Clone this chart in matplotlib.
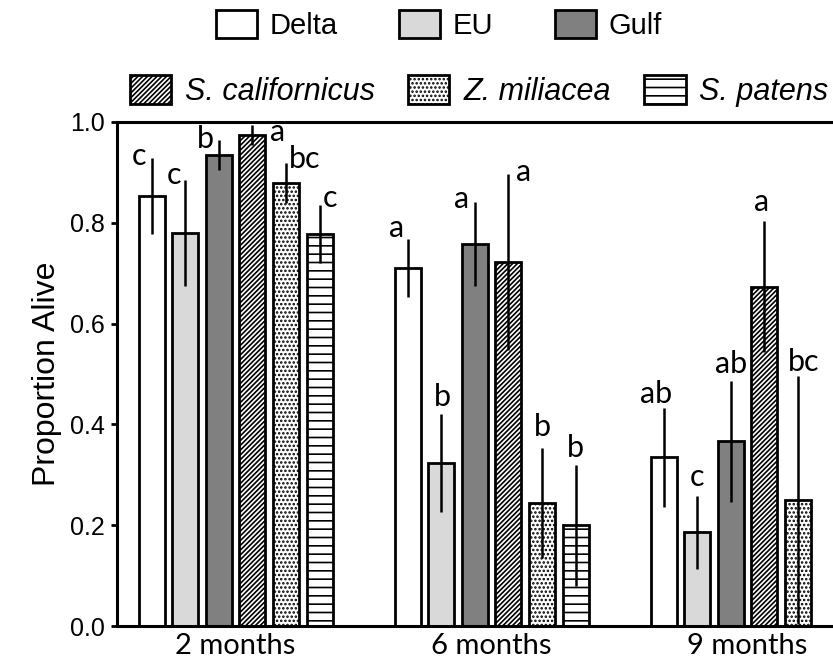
import numpy as np
import matplotlib
matplotlib.use("Agg")
import matplotlib.pyplot as plt
from matplotlib.patches import Patch

# ---- data ----
periods = ["2 months", "6 months", "9 months"]
groups = ["Delta", "EU", "Gulf", "S. californicus", "Z. miliacea", "S. patens"]

delta = [0.853, 0.710, 0.335]
eu = [0.780, 0.323, 0.186]
gulf = [0.935, 0.758, 0.367]
s_cal = [0.974, 0.722, 0.673]
z_mil = [0.879, 0.244, 0.250]
s_pat = [0.778, 0.200, np.nan]

delta_err = [0.075, 0.058, 0.098]
eu_err = [0.105, 0.097, 0.072]
gulf_err = [0.030, 0.083, 0.120]
s_cal_err = [0.020, 0.175, 0.130]
z_mil_err = [0.040, 0.110, 0.246]
s_pat_err = [0.058, 0.120, np.nan]

letters_2mo = ["c", "c", "b", "a", "bc", "c"]
letters_6mo = ["a", "b", "a", "a", "b", "b"]
letters_9mo = ["ab", "c", "ab", "a", "bc", ""]

# ---- styles / layout ----
faces = ["white", "#d9d9d9", "#808080", "white", "white", "white"]
hatches = [None, None, None, "///////", "....", "--"]
# letter nudges in pixels (dx right, dy up) relative to top of error bar
nudge_2mo = [(-13, -7), (-11, -4), (-13, -8), (25, -16), (19, -5), (10, -2)]
nudge_6mo = [(-11, 2), (1, 8), (-13, -6), (15, -7), (0, 12), (0, 8)]
nudge_9mo = [(-7, 5), (0, 10), (0, 8), (-3, 10), (6, 5), (0, 0)]

values = [delta, eu, gulf, s_cal, z_mil, s_pat]
errors = [delta_err, eu_err, gulf_err, s_cal_err, z_mil_err, s_pat_err]
letters = [letters_2mo, letters_6mo, letters_9mo]
nudges = [nudge_2mo, nudge_6mo, nudge_9mo]

plt.rcParams["hatch.linewidth"] = 1.2
plt.rcParams["font.family"] = ["Liberation Sans", "DejaVu Sans"]

fig = plt.figure(figsize=(8.33, 6.65), dpi=100)
ax = fig.add_axes([0.1405, 0.0586, 0.8595, 0.758])

unit = 256.0  # pixels per group
width = 26 / unit
step = 33.6 / unit
x = np.arange(len(periods))

for i, (vals, errs) in enumerate(zip(values, errors)):
    pos = x + (i - 2.5) * step
    for j in range(len(periods)):
        if np.isnan(vals[j]):
            continue
        ax.bar(pos[j], vals[j], width, color=faces[i], edgecolor="black",
               linewidth=2, hatch=hatches[i], zorder=2)
        ax.plot([pos[j], pos[j]], [vals[j] - errs[j], vals[j] + errs[j]],
                color="black", lw=1.8, zorder=3, solid_capstyle="butt")
        lab = letters[j][i]
        if lab:
            dx, dy = nudges[j][i]
            ax.text(pos[j] + dx / unit, vals[j] + errs[j] + dy / 504.0, lab,
                    ha="center", va="baseline", fontsize=22, family="Lato",
                    zorder=4)

ax.set_xlim(-0.463, 2.334)
ax.set_ylim(0, 1.0)
ax.set_yticks(np.arange(0, 1.01, 0.2))
ax.set_yticklabels([f"{v:.1f}" for v in np.arange(0, 1.01, 0.2)], fontsize=18)
ax.set_xticks(x)
ax.set_xticklabels(periods, fontsize=21, family="Lato")
ax.tick_params(axis="x", length=0, pad=5)
ax.tick_params(axis="y", direction="out", length=4.5, width=2, pad=4)
ax.set_ylabel("Proportion Alive", fontsize=23, labelpad=6)

for side in ["left", "bottom", "top"]:
    ax.spines[side].set_linewidth(2.2)
ax.spines["right"].set_visible(False)

# legends
h1 = [Patch(facecolor=faces[i], edgecolor="black", linewidth=2, hatch=hatches[i],
            label=groups[i]) for i in range(3)]
h2 = [Patch(facecolor=faces[i], edgecolor="black", linewidth=2, hatch=hatches[i],
            label=groups[i]) for i in range(3, 6)]
leg1 = fig.legend(handles=h1, loc="center", bbox_to_anchor=(439 / 833, 1 - 25 / 665),
                  ncol=3, frameon=False, fontsize=21, handlelength=1.4,
                  handleheight=1.1, handletextpad=0.45, columnspacing=2.1,
                  borderpad=0, borderaxespad=0)
leg2 = fig.legend(handles=h2, loc="center", bbox_to_anchor=(479 / 833, 1 - 91 / 665),
                  ncol=3, frameon=False, handlelength=1.35,
                  handleheight=1.05, handletextpad=0.45, columnspacing=1.1,
                  borderpad=0, borderaxespad=0, prop={"style": "italic", "size": 22})

fig.savefig("out.png", dpi=100)
